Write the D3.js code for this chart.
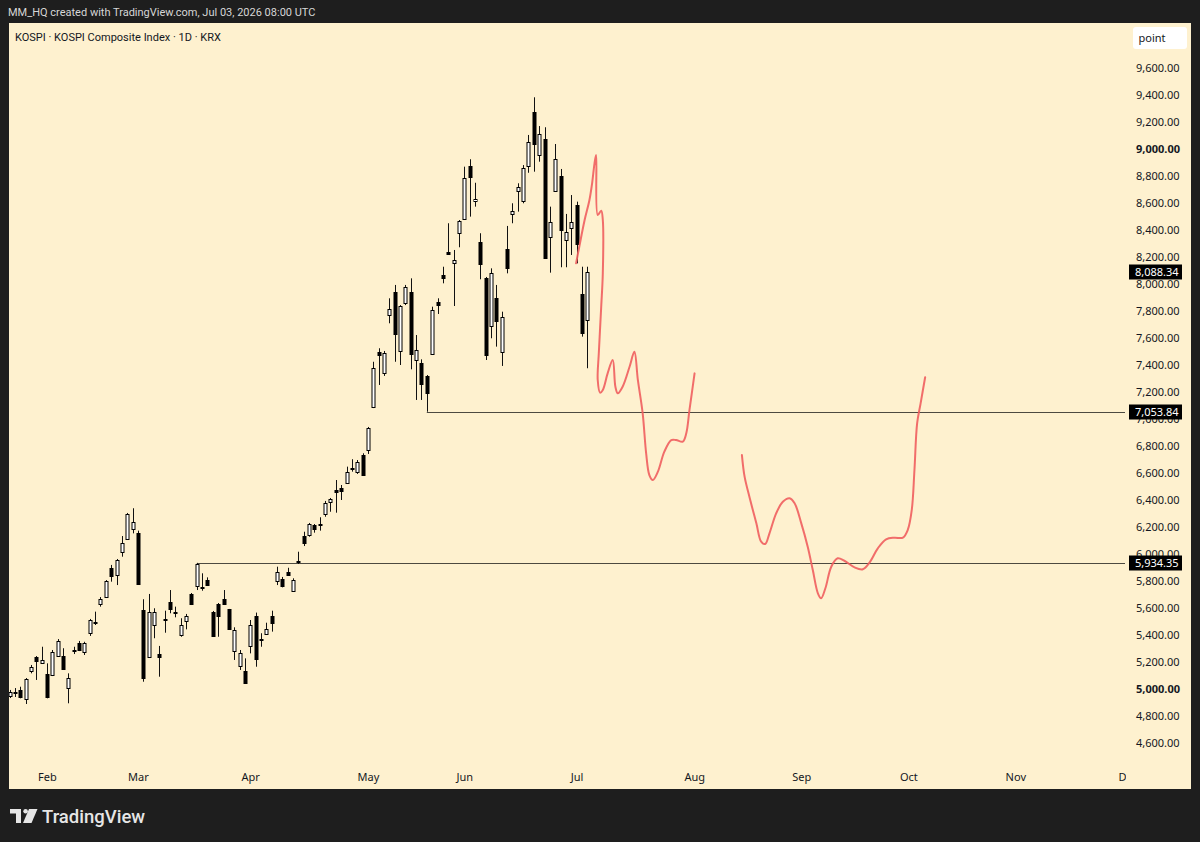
<!DOCTYPE html>
<html>
<head>
<meta charset="utf-8">
<script src="https://cdn.jsdelivr.net/npm/d3@7"></script>
<style>
  body { margin: 0; background: #1e1e1e; }
  svg { display: block; }
</style>
</head>
<body>
<div id="chart"></div>
<script>
// daily candles, bar index 0 = Jan 22 2026, last = Jul 3 2026
var open = [4948,4974,4993,4926,5128,5239,5195,5111,5104,5247,5244,5005,5289,5343,5276,5413,5496,5630,5684,5894,
  5844,6010,6110,6183,6158,5585,5239,5474,5259,5519,5647,5563,5400,5501,5704,5758,5756,5807,5573,5630,
  5667,5590,5284,5170,5133,5319,5541,5370,5407,5541,5795,5815,5869,5726,5948,6133,6141,6215,6211,6296,
  6380,6474,6487,6524,6631,6610,6733,6770,7087,7499,7343,7770,7943,7506,7861,7943,7437,7417,7319,7479,
  7869,8064,8235,8153,8376,8479,8874,8615,8313,8042,7689,7894,7499,8257,8519,8689,8610,8874,9276,8950,
  9074,8351,8691,8802,8326,8413,8585,7926,7733];
var high = [4993,5007,5017,5081,5178,5244,5313,5190,5289,5370,5302,5116,5313,5356,5350,5519,5573,5681,5807,5919,
  5963,6133,6304,6339,6173,5665,5704,5598,5319,5580,5733,5610,5524,5556,5711,5934.35,5857,5827,5578,5637,
  5733,5593,5457,5289,5227,5511,5566,5413,5491,5580,5906,5830,5898,5820,6017,6165,6230,6222,6272,6393,
  6415,6548,6511,6647,6702,6696,6746,6941,7424,7524,7504,7894,7993,7844,7993,8042,7622,7442,7326,7832,
  7894,8128,8450,8252,8474,8869,8924,8750,8376,8052,8116,7993,7795,8430,8598,8746,8881,9104,9383,9170,
  9161,8573,9037,8852,8519,8659,8610,8128,8128];
var low = [4933,4941,4931,4889,5116,5067,5193,4931,5096,5237,5141,4894,5259,5281,5252,5393,5474,5610,5674,5795,
  5770,5980,6104,6153,5778,5054,5230,5376,5091,5417,5561,5531,5387,5442,5622,5733,5728,5763,5393,5387,
  5622,5437,5215,5141,5042,5264,5165,5313,5400,5425,5770,5753,5844,5721,5926,6059,6128,6158,6173,6276,
  6313,6306,6400,6519,6610,6593,6582,6741,7081,7252,7319,7709,7424,7400,7844,7368,7141,7141,7053.84,7474,
  7778,8005,8218,7837,8272,8474,8499,8573,8035,7437,7598,7536,7393,8079,8450,8536,8598,8824,8832,8906,
  8193,8084,8689,8124,8124,8215,8153,7610,7376];
var close = [4978,4978,4941,5072,5161,5210,5215,4939,5276,5358,5146,5079,5287,5289,5343,5511,5489,5669,5800,5832,
  5956,6079,6296,6237,5783,5079,5573,5573,5239,5511,5598,5573,5474,5541,5627,5924,5748,5770,5395,5543,
  5627,5442,5437,5269,5042,5474,5222,5367,5442,5487,5864,5763,5850,5807,5950,6079,6220,6183,6219,6380,
  6405,6462,6462,6605,6637,6684,6585,6931,7376,7474,7491,7813,7635,7837,7981,7487,7511,7264,7195,7807,
  7844,8042,8222,8178,8467,8783,8795,8630,8148,7474,8084,7721,7758,8116,8543,8721,8857,9054,9042,9109,
  8195,8461,8926,8400,8387,8461,8294,7640,8088.34];

// month labels and the bar index each one sits on
var monthNames = ["Feb","Mar","Apr","May","Jun","Jul","Aug","Sep","Oct","Nov","Dec"];
var monthIdx = [7,24,45,67,85,106,128,148,168,188,209];

// price scale ticks
var priceTicks = d3.range(4600, 9601, 200);

// horizontal levels: price and the bar they start from
var levelPrice = [7053.84, 5934.35];
var levelStart = [78, 35];
var lastPrice = 8088.34;

// hand drawn brush projection, [bar index, price]
var brushA = [[105.9,8153],[106.5,8276],[107.5,8474],[108.4,8622],[108.9,8746],[109.35,8894],[109.65,8956],
  [109.95,8511],[110.6,8543],[110.9,8474],[110.9,8081],[110.6,7832],[110.15,7487],[109.95,7289],[110.4,7195],
  [110.9,7215],[111.8,7338],[112.75,7437],[113.25,7239],[113.7,7190],[114.6,7239],[115.9,7387],[116.8,7498],
  [117.45,7289],[118.35,7042],[119,6746],[119.6,6585],[120.25,6548],[121.2,6610],[122.4,6758],[123.7,6844],
  [124.6,6844],[125.85,6832],[126.5,6894],[127.1,7067],[128.05,7338]];
var brushB = [[136.9,6733],[137.4,6573],[138.3,6424],[139.6,6227],[140.5,6091],[141.25,6074],[142.05,6153],
  [143.3,6301],[144.55,6387],[145.8,6413],[146.75,6376],[148,6227],[149.2,6054],[150.15,5881],[151.1,5709],
  [151.7,5672],[152.5,5746],[153.6,5906],[154.8,5968],[156.05,5950],[157.95,5901],[159.5,5887],[160.75,5936],
  [162.3,6042],[163.85,6109],[165.4,6121],[167,6121],[167.9,6178],[168.65,6326],[169.15,6622],[169.65,6968],
  [170.3,7116],[171.15,7309]];

function init(){
    var w = 1200;
    var h = 842;
    var font = "'Noto Sans', Roboto, sans-serif";
    var narrow = "Roboto, 'Noto Sans', sans-serif";

    var svg = d3.select("#chart")
                .append("svg")
                .attr("width", w)
                .attr("height", h);

    var x = d3.scaleLinear()
              .domain([0, 208])
              .range([9.5, 9.5 + 5.35 * 208]);

    var y = d3.scaleLinear()
              .domain([4600, 9600])
              .range([743, 68]);

    // frame
    svg.append("rect")
       .attr("width", w).attr("height", h)
       .attr("fill", "#1e1e1e");

    svg.append("rect")
       .attr("x", 9).attr("y", 23)
       .attr("width", 1182).attr("height", 766)
       .attr("fill", "#fef1cf");

    svg.append("text")
       .attr("x", 8).attr("y", 16)
       .text("MM_HQ created with TradingView.com, Jul 03, 2026 08:00 UTC")
       .style("font-family", narrow)
       .style("font-size", "11px")
       .attr("fill", "#d6d6d6");

    var defs = svg.append("defs");
    defs.append("clipPath").attr("id", "pane")
        .append("rect")
        .attr("x", 9).attr("y", 23).attr("width", 1116).attr("height", 742);
    defs.append("clipPath").attr("id", "timeclip")
        .append("rect")
        .attr("x", 9).attr("y", 765).attr("width", 1117).attr("height", 24);

    var pane = svg.append("g").attr("clip-path", "url(#pane)");

    // level lines
    pane.selectAll("line.level")
        .data(levelPrice)
        .enter()
        .append("line")
        .attr("class", "level")
        .attr("x1", function(d, i){ return x(levelStart[i]); })
        .attr("x2", 1128)
        .attr("y1", function(d){ return Math.round(y(d)) + 0.5; })
        .attr("y2", function(d){ return Math.round(y(d)) + 0.5; })
        .attr("stroke", "#4d4a40")
        .attr("stroke-width", 1);

    // candles
    var idx = d3.range(open.length);
    var candles = pane.selectAll("g.candle")
        .data(idx)
        .enter()
        .append("g")
        .attr("class", "candle");

    candles.append("line")
        .attr("x1", function(i){ return Math.round(x(i)) + 0.5; })
        .attr("x2", function(i){ return Math.round(x(i)) + 0.5; })
        .attr("y1", function(i){ return y(high[i]); })
        .attr("y2", function(i){ return y(low[i]); })
        .attr("stroke", "#111")
        .attr("stroke-width", 1);

    candles.append("rect")
        .attr("x", function(i){ return Math.round(x(i)) - 1; })
        .attr("width", 3)
        .attr("y", function(i){ return Math.round(y(Math.max(open[i], close[i]))) + 0.5; })
        .attr("height", function(i){
            return Math.max(1, Math.round(Math.abs(y(open[i]) - y(close[i]))));
        })
        .attr("fill", function(i){ return close[i] >= open[i] ? "#ffffff" : "#000000"; })
        .attr("stroke", "#000")
        .attr("stroke-width", 1);

    // brush drawing
    var brush = d3.line()
                  .x(function(d){ return x(d[0]); })
                  .y(function(d){ return y(d[1]); })
                  .curve(d3.curveCatmullRom.alpha(0.5));

    pane.selectAll("path.brush")
        .data([brushA, brushB])
        .enter()
        .append("path")
        .attr("class", "brush")
        .attr("d", brush)
        .attr("fill", "none")
        .attr("stroke", "#ef5e5e")
        .attr("stroke-opacity", 0.9)
        .attr("stroke-width", 2)
        .attr("stroke-linecap", "round")
        .attr("stroke-linejoin", "round");

    // legend
    svg.append("text")
       .attr("x", 15).attr("y", 41)
       .text("KOSPI \u00b7 KOSPI Composite Index \u00b7 1D \u00b7 KRX")
       .style("font-family", narrow)
       .style("font-size", "11px")
       .attr("fill", "#131722");

    // time axis
    var xAxis = d3.axisBottom(x)
                  .tickValues(monthIdx)
                  .tickFormat(function(d, i){ return monthNames[i]; })
                  .tickSize(0)
                  .tickPadding(0);

    var gx = svg.append("g")
                .attr("clip-path", "url(#timeclip)")
                .append("g")
                .attr("transform", "translate(0,773)")
                .call(xAxis);
    gx.select(".domain").remove();
    gx.selectAll("text")
      .style("font-family", font)
      .style("font-size", "11px")
      .attr("fill", "#131722");

    // price axis
    var yAxis = d3.axisRight(y)
                  .tickValues(priceTicks)
                  .tickFormat(d3.format(",.2f"))
                  .tickSize(0)
                  .tickPadding(0);

    var gy = svg.append("g")
                .attr("transform", "translate(1136,0)")
                .call(yAxis);
    gy.select(".domain").remove();
    gy.selectAll("text")
      .style("font-family", font)
      .style("font-size", "11px")
      .style("font-weight", function(d){ return (d == 9000 || d == 5000) ? "bold" : "normal"; })
      .attr("fill", "#131722");

    // price labels
    var tags = svg.selectAll("g.tag")
        .data([lastPrice].concat(levelPrice))
        .enter()
        .append("g")
        .attr("class", "tag")
        .attr("transform", function(d){ return "translate(1129," + Math.round(y(d)) + ")"; });

    tags.append("rect")
        .attr("x", 0).attr("y", -7.5)
        .attr("width", 53).attr("height", 15)
        .attr("fill", "#000");

    tags.append("text")
        .attr("x", 6).attr("y", 4)
        .text(function(d){ return d3.format(",.2f")(d); })
        .style("font-family", font)
        .style("font-size", "11px")
        .attr("fill", "#fff");

    // scale mode button
    svg.append("rect")
       .attr("x", 1133).attr("y", 27)
       .attr("width", 54).attr("height", 22)
       .attr("rx", 3)
       .attr("fill", "#ffffff");
    svg.append("text")
       .attr("x", 1152).attr("y", 42)
       .text("point")
       .style("font-family", font)
       .style("font-size", "11px")
       .attr("text-anchor", "middle")
       .attr("fill", "#131722");

    // logo
    var logo = svg.append("g").attr("fill", "#e6e6e6");
    logo.append("path").attr("d", "M10,809 H21 V823 H16 V813.5 H10 Z");
    logo.append("circle").attr("cx", 25.6).attr("cy", 811.3).attr("r", 2.3);
    logo.append("path").attr("d", "M29,809 H37.5 L31.5,823 H23 Z");
    logo.append("text")
        .attr("x", 42).attr("y", 823)
        .text("TradingView")
        .style("font-family", "Roboto, sans-serif")
        .style("font-size", "18.5px")
        .style("font-weight", 500)
        .attr("fill", "#e6e6e6");
}

window.onload = init;
</script>
</body>
</html>
